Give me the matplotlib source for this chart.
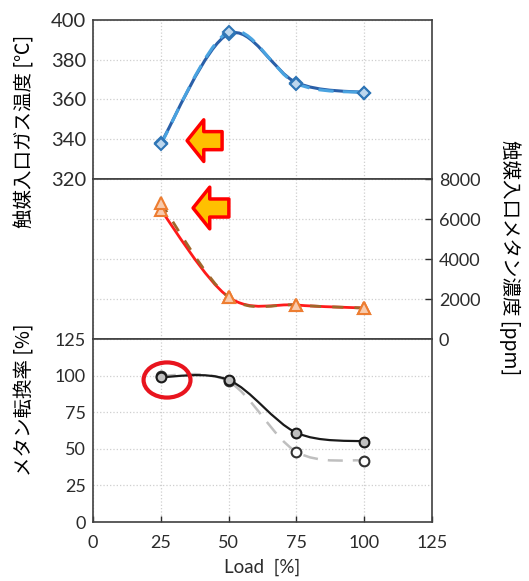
import numpy as np
import matplotlib.pyplot as plt
from matplotlib.path import Path
from matplotlib.patches import PathPatch, Ellipse

plt.rcParams['font.family'] = ['Lato', 'Noto Sans CJK JP', 'DejaVu Sans']

# data
load = [25, 50, 75, 100]
gas_temp_a = [338, 393, 368.5, 363.5]
gas_temp_b = [337.5, 394, 368, 363.5]
methane_a = [6450, 2100, 1700, 1550]
methane_b = [6800, 2100, 1700, 1550]
conv_a = [99, 97, 61, 55]
conv_b = [100, 96, 48, 42]

x_ticks = [0, 25, 50, 75, 100, 125]
temp_ticks = [320, 340, 360, 380, 400]
ppm_ticks = [0, 2000, 4000, 6000, 8000]
conv_ticks = [0, 25, 50, 75, 100, 125]

label_temp = '触媒入口ガス温度 [℃]'
label_ppm = '触媒入口メタン濃度 [ppm]'
label_conv = 'メタン転換率 [%]'
label_x = 'Load  [%]'


def smooth_line(ax, x, y, **kw):
    # excel-like smoothed line as bezier segments through the points
    x = np.asarray(x, float)
    y = np.asarray(y, float)
    n = len(x)
    verts = [(x[0], y[0])]
    codes = [Path.MOVETO]
    for i in range(n - 1):
        i0 = max(i - 1, 0)
        i3 = min(i + 2, n - 1)
        c1 = (x[i] + (x[i + 1] - x[i0]) / 6, y[i] + (y[i + 1] - y[i0]) / 6)
        c2 = (x[i + 1] - (x[i3] - x[i]) / 6, y[i + 1] - (y[i3] - y[i]) / 6)
        verts += [c1, c2, (x[i + 1], y[i + 1])]
        codes += [Path.CURVE4] * 3
    ax.add_patch(PathPatch(Path(verts, codes), fill=False, **kw))


fig = plt.figure(figsize=(5.29, 5.81), dpi=100)
left, width = 0.1758, 0.6408
ax1 = fig.add_axes([left, 0.6919, width, 0.2737])
ax2 = fig.add_axes([left, 0.4165, width, 0.2754])
ax3 = fig.add_axes([left, 0.1015, width, 0.3150])

spine_c = '#404040'
txt_c = '#2b2b2b'
grid_kw = dict(color='#cfcfcf', linestyle=':', linewidth=0.9)
for ax in (ax1, ax2, ax3):
    ax.set_xlim(0, 125)
    ax.set_xticks(x_ticks)
    for s in ax.spines.values():
        s.set_color(spine_c)
        s.set_linewidth(1.2)
    ax.tick_params(direction='in', colors=txt_c, length=4, width=1)
    ax.grid(True, **grid_kw)
    ax.set_axisbelow(True)

# top panel: gas temperature
ax1.set_ylim(320, 400)
ax1.set_yticks(temp_ticks)
ax1.tick_params(axis='y', labelsize=14.5, pad=5, length=0)
ax1.tick_params(axis='x', labelbottom=False, length=0)
smooth_line(ax1, load, gas_temp_a, edgecolor='#2a5fa8', linewidth=2.2, zorder=3)
smooth_line(ax1, load, gas_temp_b, edgecolor='#4aa3e0', linewidth=2.2,
            linestyle=(0, (5, 3)), zorder=3)
ax1.plot(load, gas_temp_a, linestyle='none', marker='D', markersize=6,
         markerfacecolor='#bdd7ee', markeredgecolor='#2e75b6', mew=1.5, zorder=4)
ax1.plot(load, gas_temp_b, linestyle='none', marker='D', markersize=6,
         markerfacecolor='#bdd7ee', markeredgecolor='#2e75b6', mew=1.5, zorder=4)
ax1.annotate('', xy=(34.7, 339.3), xytext=(47.6, 339.3),
             arrowprops=dict(arrowstyle='simple,head_length=12,head_width=30,tail_width=13',
                             mutation_scale=1, fc='#ffc000', ec='#ff0000', lw=2.5,
                             shrinkA=0, shrinkB=0))

# middle panel: methane concentration
ax2.set_ylim(0, 8000)
ax2.set_yticks(ppm_ticks)
ax2.yaxis.tick_right()
ax2.tick_params(axis='y', labelsize=13, pad=5, length=5)
ax2.tick_params(axis='x', labelbottom=False, length=0)
smooth_line(ax2, load, methane_a, edgecolor='#ff1a1a', linewidth=2.0, zorder=3)
smooth_line(ax2, load, methane_b, edgecolor='#a0662a', linewidth=2.0,
            linestyle=(0, (4, 4)), zorder=3)
ax2.plot(load, methane_a, linestyle='none', marker='^', markersize=9,
         markerfacecolor='#f8cbad', markeredgecolor='#ed7d31', mew=1.5, zorder=4)
ax2.plot(load, methane_b, linestyle='none', marker='^', markersize=9,
         markerfacecolor='#f8cbad', markeredgecolor='#ed7d31', mew=1.5, zorder=4)
ax2.annotate('', xy=(36.9, 6550), xytext=(50.1, 6550),
             arrowprops=dict(arrowstyle='simple,head_length=12,head_width=30,tail_width=13',
                             mutation_scale=1, fc='#ffc000', ec='#ff0000', lw=2.5,
                             shrinkA=0, shrinkB=0))

# bottom panel: methane conversion
ax3.set_ylim(0, 125)
ax3.set_yticks(conv_ticks)
ax3.tick_params(axis='y', labelsize=13, pad=5, length=0)
ax3.tick_params(axis='x', labelsize=13, pad=9)
smooth_line(ax3, load, conv_b, edgecolor='#bfbfbf', linewidth=1.8,
            linestyle=(0, (6, 4)), zorder=3)
smooth_line(ax3, load, conv_a, edgecolor='#1a1a1a', linewidth=1.6, zorder=3)
ax3.plot(load, conv_b, linestyle='none', marker='o', markersize=7,
         markerfacecolor='white', markeredgecolor='#333333', mew=1.5, zorder=4)
ax3.plot(load, conv_a, linestyle='none', marker='o', markersize=7,
         markerfacecolor='#bfbfbf', markeredgecolor='#1a1a1a', mew=1.5, zorder=4)
ax3.add_patch(Ellipse((27.3, 97), 17.3, 24, fill=False, edgecolor='#e8141e',
                      linewidth=3, zorder=5, clip_on=False))
ax3.set_xlabel(label_x, fontsize=13.5, color=txt_c, labelpad=6)

# axis titles
fig.text(25 / 529, 0.773, label_temp, rotation=90, ha='center', va='center',
         fontsize=14, family=['Noto Sans CJK JP', 'DejaVu Sans'])
fig.text(25 / 529, 0.3115, label_conv, rotation=90, ha='center', va='center',
         fontsize=14, family=['Noto Sans CJK JP', 'DejaVu Sans'])
fig.text(510 / 529, 0.557, label_ppm, rotation=-90, ha='center', va='center',
         fontsize=14, family=['Noto Sans CJK JP', 'DejaVu Sans'])

fig.savefig('out.png', dpi=100)
